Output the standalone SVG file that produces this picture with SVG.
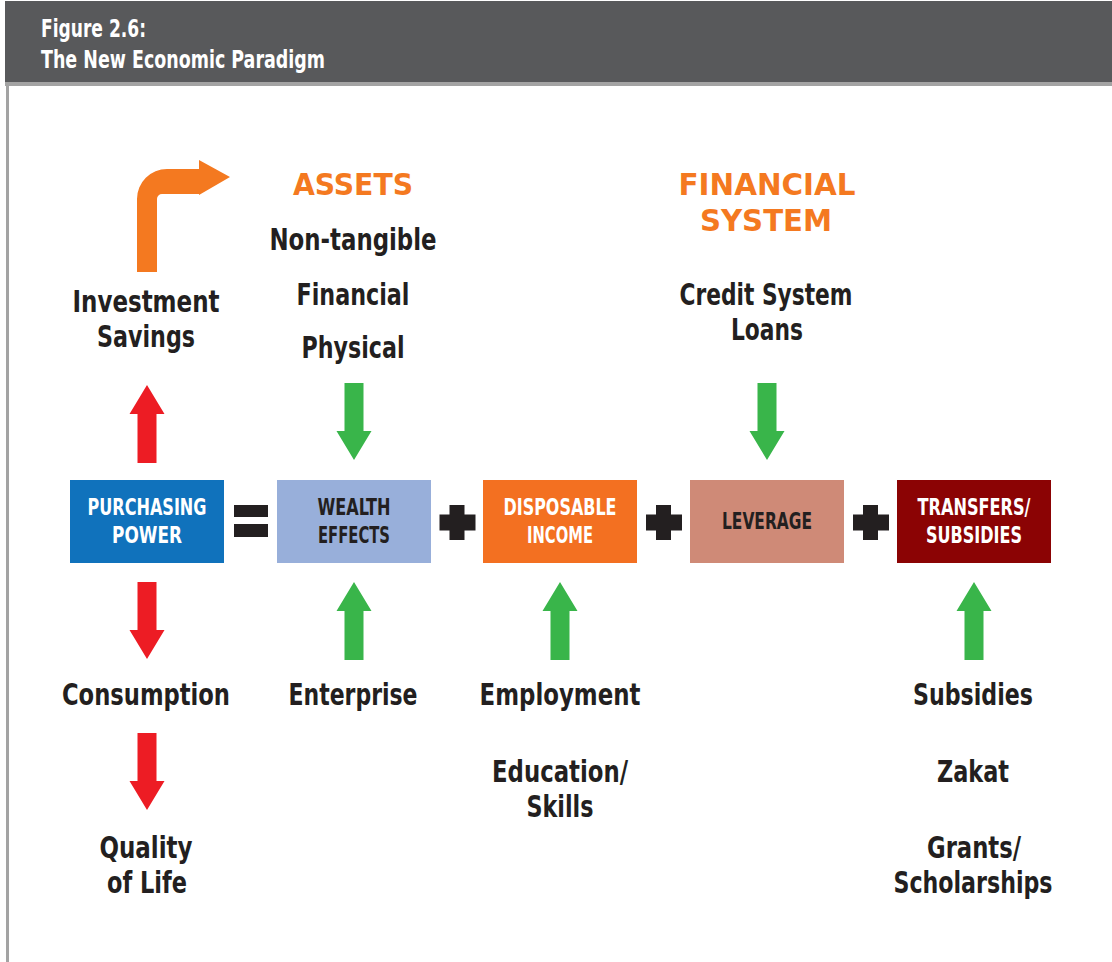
<svg xmlns="http://www.w3.org/2000/svg" width="1112" height="962" viewBox="0 0 1112 962">
<style>
text{font-family:"Liberation Sans Narrow","DejaVu Sans Condensed","Liberation Sans",sans-serif;font-weight:bold;text-anchor:middle}
.hd{fill:#ffffff;font-size:25px;text-anchor:start}
.or{fill:#f47920;font-size:31px}
.bd{fill:#231f20;font-size:31px}
.bw{fill:#ffffff;font-size:23px}
.bk{fill:#231f20;font-size:23px}
.red{fill:#ed1c24}
.grn{fill:#39b54a}
.op{fill:#231f20}
</style>
<defs>
<polygon id="up" points="0,0 17.5,29 9.5,29 9.5,78 -9.5,78 -9.5,29 -17.5,29"/>
<polygon id="down" points="0,0 17.5,-29 9.5,-29 9.5,-77 -9.5,-77 -9.5,-29 -17.5,-29"/>
</defs>
<rect x="0" y="0" width="1112" height="962" fill="#ffffff"/>
<g id="header">
<rect x="5" y="1" width="1107" height="82" fill="#58595b"/>
<rect x="5" y="82" width="1107" height="4" fill="#a3a3a3"/>
<rect x="6" y="83" width="3" height="879" fill="#a3a3a3"/>
<text class="hd" x="41" y="37" textLength="105" lengthAdjust="spacingAndGlyphs">Figure 2.6:</text>
<text class="hd" x="41" y="68" textLength="284" lengthAdjust="spacingAndGlyphs">The New Economic Paradigm</text>
</g>
<g id="assets">
<text class="or" x="353" y="195" textLength="120" lengthAdjust="spacingAndGlyphs">ASSETS</text>
<text class="bd" x="353" y="250" textLength="167" lengthAdjust="spacingAndGlyphs">Non-tangible</text>
<text class="bd" x="353" y="305" textLength="113" lengthAdjust="spacingAndGlyphs">Financial</text>
<text class="bd" x="353" y="358" textLength="103" lengthAdjust="spacingAndGlyphs">Physical</text>
</g>
<g id="financial-system">
<text class="or" x="767" y="195" textLength="177" lengthAdjust="spacingAndGlyphs">FINANCIAL</text>
<text class="or" x="766" y="231" textLength="132" lengthAdjust="spacingAndGlyphs">SYSTEM</text>
<text class="bd" x="766" y="305" textLength="173" lengthAdjust="spacingAndGlyphs">Credit System</text>
<text class="bd" x="767" y="340" textLength="72" lengthAdjust="spacingAndGlyphs">Loans</text>
</g>
<g id="investment-savings">
<text class="bd" x="146" y="312" textLength="147" lengthAdjust="spacingAndGlyphs">Investment</text>
<text class="bd" x="146" y="347" textLength="98" lengthAdjust="spacingAndGlyphs">Savings</text>
</g>
<g id="purchasing-power">
<rect x="70" y="480" width="154" height="83" fill="#1072bc"/>
<text class="bw" x="147" y="515" textLength="119" lengthAdjust="spacingAndGlyphs">PURCHASING</text>
<text class="bw" x="147" y="543" textLength="70" lengthAdjust="spacingAndGlyphs">POWER</text>
</g>
<g id="wealth-effects">
<rect x="277" y="480" width="154" height="83" fill="#98afda"/>
<text class="bk" x="354" y="515" textLength="73" lengthAdjust="spacingAndGlyphs">WEALTH</text>
<text class="bk" x="354" y="543" textLength="72" lengthAdjust="spacingAndGlyphs">EFFECTS</text>
</g>
<g id="disposable-income">
<rect x="483" y="480" width="154" height="83" fill="#f37021"/>
<text class="bw" x="560" y="515" textLength="113" lengthAdjust="spacingAndGlyphs">DISPOSABLE</text>
<text class="bw" x="560" y="543" textLength="66" lengthAdjust="spacingAndGlyphs">INCOME</text>
</g>
<g id="leverage">
<rect x="690" y="480" width="154" height="83" fill="#cf8a77"/>
<text class="bk" x="767" y="529" textLength="90" lengthAdjust="spacingAndGlyphs">LEVERAGE</text>
</g>
<g id="transfers-subsidies">
<rect x="897" y="480" width="154" height="83" fill="#8b0304"/>
<text class="bw" x="974" y="515" textLength="113" lengthAdjust="spacingAndGlyphs">TRANSFERS/</text>
<text class="bw" x="974" y="543" textLength="96" lengthAdjust="spacingAndGlyphs">SUBSIDIES</text>
</g>
<g id="operators">
<rect class="op" x="234" y="505" width="34" height="12"/>
<rect class="op" x="234" y="524" width="34" height="13"/>
<path class="op" d="M449.5,505h15v9.5h11v16h-11v9.5h-15v-9.5h-10v-16h10z"/>
<path class="op" d="M656,505h15v9.5h11v16h-11v9.5h-15v-9.5h-10v-16h10z"/>
<path class="op" d="M863,505h15v9.5h11v16h-11v9.5h-15v-9.5h-10v-16h10z"/>
</g>
<g id="consumption">
<text class="bd" x="146" y="705" textLength="168" lengthAdjust="spacingAndGlyphs">Consumption</text>
</g>
<g id="quality-of-life">
<text class="bd" x="146" y="858" textLength="93" lengthAdjust="spacingAndGlyphs">Quality</text>
<text class="bd" x="147" y="893" textLength="80" lengthAdjust="spacingAndGlyphs">of Life</text>
</g>
<g id="enterprise">
<text class="bd" x="353" y="705" textLength="129" lengthAdjust="spacingAndGlyphs">Enterprise</text>
</g>
<g id="employment">
<text class="bd" x="560" y="705" textLength="161" lengthAdjust="spacingAndGlyphs">Employment</text>
</g>
<g id="education-skills">
<text class="bd" x="560" y="782" textLength="136" lengthAdjust="spacingAndGlyphs">Education/</text>
<text class="bd" x="560" y="817" textLength="67" lengthAdjust="spacingAndGlyphs">Skills</text>
</g>
<g id="subsidies">
<text class="bd" x="973" y="705" textLength="120" lengthAdjust="spacingAndGlyphs">Subsidies</text>
</g>
<g id="zakat">
<text class="bd" x="973" y="782" textLength="72" lengthAdjust="spacingAndGlyphs">Zakat</text>
</g>
<g id="grants-scholarships">
<text class="bd" x="974" y="858" textLength="94" lengthAdjust="spacingAndGlyphs">Grants/</text>
<text class="bd" x="973" y="893" textLength="159" lengthAdjust="spacingAndGlyphs">Scholarships</text>
</g>
<g id="connectors">
<path fill="#f47920" d="M137,272 L137,199 A30,30 0 0 1 167,169 L199,169 L199,160 L230,177 L199,195 L199,194 L162,194 A5,5 0 0 0 157,199 L157,272 Z"/>
<use href="#up" class="red" x="147" y="385"/>
<use href="#down" class="red" x="147" y="659"/>
<use href="#down" class="red" x="147" y="810"/>
<use href="#down" class="grn" x="354" y="460"/>
<use href="#down" class="grn" x="767" y="460"/>
<use href="#up" class="grn" x="354" y="582"/>
<use href="#up" class="grn" x="560" y="582"/>
<use href="#up" class="grn" x="974" y="582"/>
</g>
</svg>
